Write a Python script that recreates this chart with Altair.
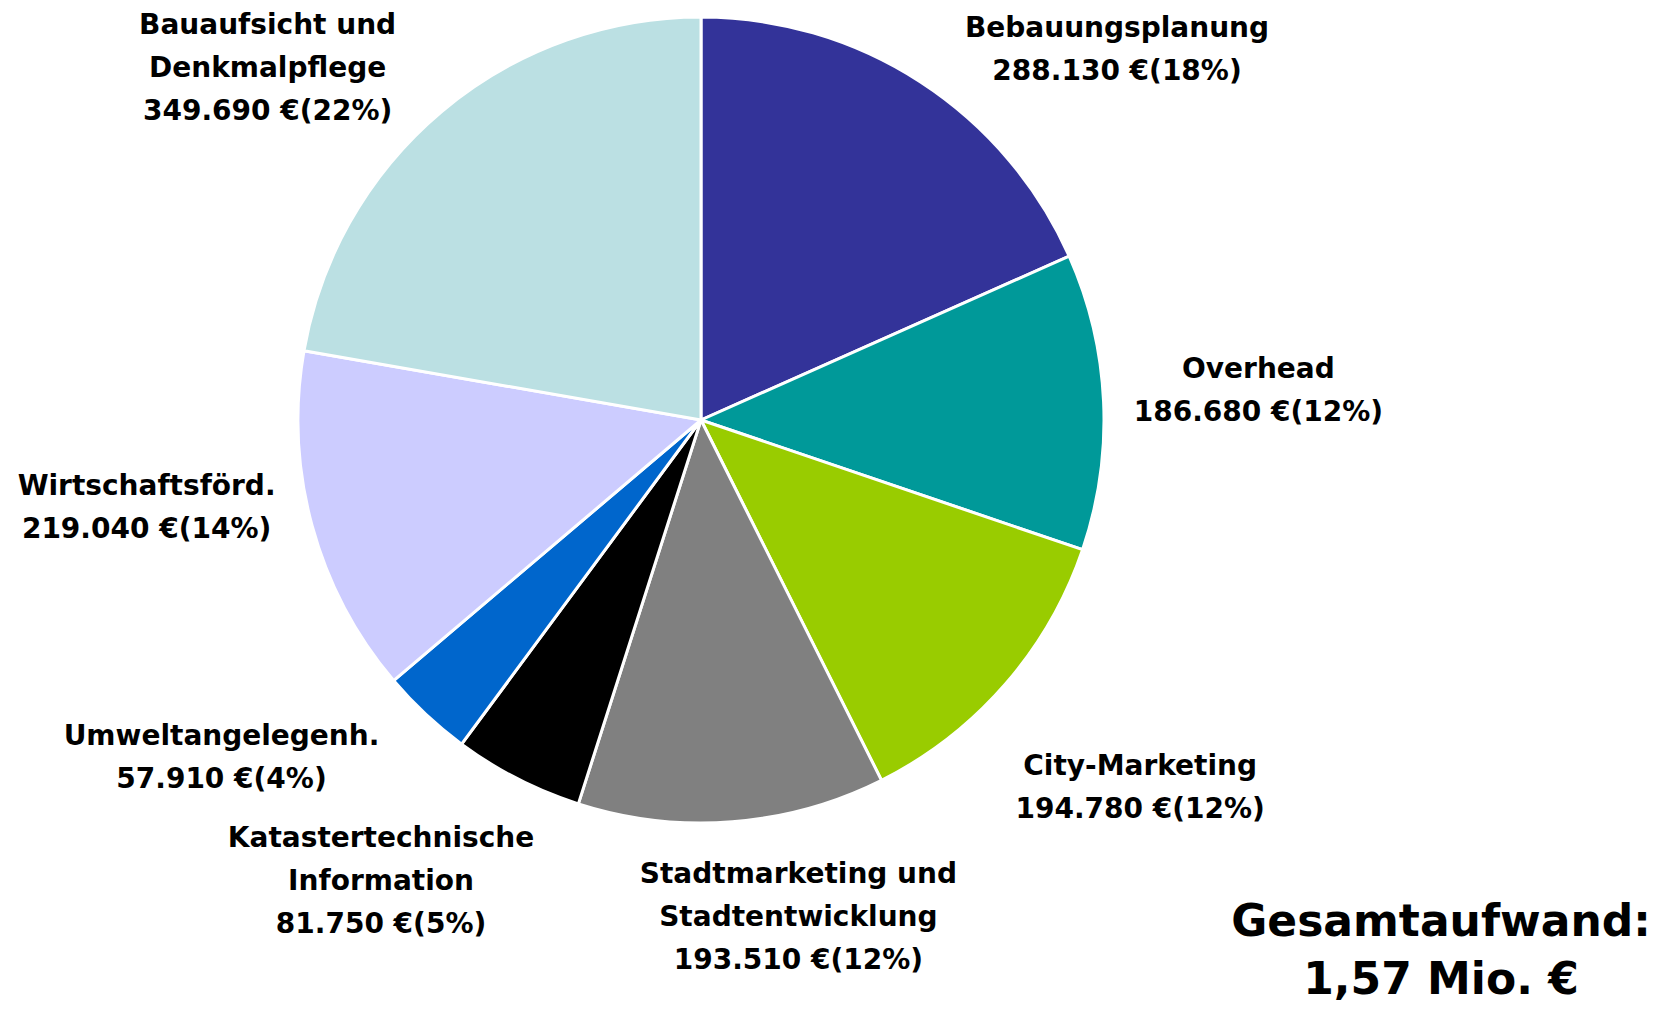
import altair as alt
import pandas as pd
import numpy as np

categories = ["Bebauungsplanung", "Overhead", "City-Marketing",
              "Stadtmarketing und Stadtentwicklung", "Katastertechnische Information",
              "Umweltangelegenh.", "Wirtschaftsförd.", "Bauaufsicht und Denkmalpflege"]
label_names = ["Bebauungsplanung", "Overhead", "City-Marketing",
               "Stadtmarketing und\nStadtentwicklung", "Katastertechnische\nInformation",
               "Umweltangelegenh.", "Wirtschaftsförd.", "Bauaufsicht und\nDenkmalpflege"]
values = [288130, 186680, 194780, 193510, 81750, 57910, 219040, 349690]
colors = ["#333399", "#009999", "#99CC00", "#808080", "#000000",
          "#0066CC", "#CCCCFF", "#BBE0E3"]

total = sum(values)
vals = np.array(values, dtype=float)
start = np.cumsum(vals) - vals
mid = start + vals / 2


def fmt_eur(v):
    return f"{v:,}".replace(",", ".") + " €"


labels = [f"{n}\n{fmt_eur(v)}({round(v / total * 100):.0f}%)"
          for n, v in zip(label_names, values)]

df = pd.DataFrame({
    "cat": categories,
    "value": values,
    "order": list(range(len(values))),
    "mid": mid,
    "label": labels,
})

W, H = 1386, 824
R = 403
LH = 43
theta_scale = alt.Scale(domain=[0, total])

pie = alt.Chart(df).mark_arc(radius=R, stroke="white", strokeWidth=3).encode(
    theta=alt.Theta("value:Q", stack=True, scale=theta_scale),
    color=alt.Color("cat:N", scale=alt.Scale(domain=categories, range=colors), legend=None),
    order=alt.Order("order:Q"),
)

# label block-centre offsets (px) from radial position at r=560
offsets = [(111, 100), (-2, -3), (17, 1), (54, -60), (-65, -37),
           (-97, -71), (-14, -58), (-73, 78)]

layers = [pie]
for i, (dx, dy) in enumerate(offsets):
    n_lines = labels[i].count("\n") + 1
    layers.append(
        alt.Chart(df).transform_filter(alt.datum.order == i).mark_text(
            radius=560, dx=dx, dy=dy - (n_lines - 1) * LH / 2,
            font="DejaVu Sans", fontWeight="bold",
            fontSize=28, lineBreak="\n", lineHeight=LH, align="center",
            baseline="middle", color="black"
        ).encode(
            theta=alt.Theta("mid:Q", stack=None, scale=theta_scale),
            text="label:N",
        )
    )

total_txt = "Gesamtaufwand:\n" + f"{total / 1e6:.2f}".replace(".", ",") + " Mio. €"
tot = alt.Chart(pd.DataFrame({"t": [total_txt]})).mark_text(
    font="DejaVu Sans", fontWeight="bold", fontSize=44, lineBreak="\n",
    lineHeight=58, align="center", baseline="middle", color="black"
).encode(x=alt.value(1433), y=alt.value(915), text="t:N")
layers.append(tot)

chart = alt.layer(*layers).properties(
    width=W, height=H,
    padding={"left": 0, "top": 0, "right": 266, "bottom": 173},
    autosize=alt.AutoSizeParams(type="none"),
).configure_view(stroke=None)

chart.save("out.html", embed_options={"renderer": "svg", "actions": False})
